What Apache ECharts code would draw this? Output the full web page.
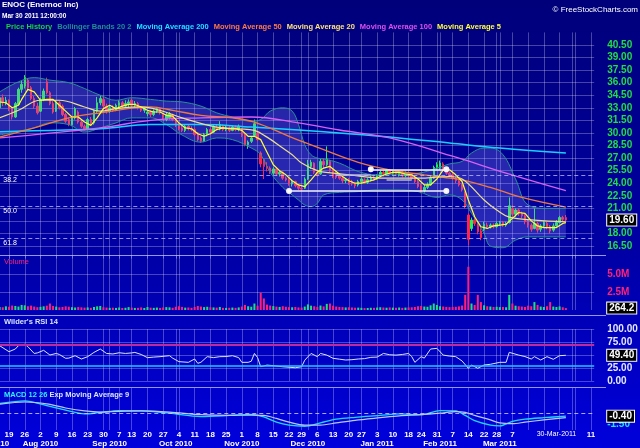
<!DOCTYPE html>
<html>
<head>
<meta charset="utf-8">
<script src="https://cdn.jsdelivr.net/npm/echarts@6.0.0/dist/echarts.min.js"></script>
<style>
html,body{margin:0;padding:0;background:#00007c;}
#chart{width:640px;height:448px;background:linear-gradient(to bottom,#00007a 0%,#0000a4 55%,#0000dc 100%);}
</style>
</head>
<body>
<div id="chart"></div>
<script>
// ---------- calendar ----------
const startDate = '2010-07-12';
const endDate = '2011-04-12';
const holidays = ['2010-09-06', '2010-11-25', '2010-12-24', '2011-01-17', '2011-02-21'];
const monthTickLabels = {
  '2010-07-12': 'Jul 2010', '2010-08-02': 'Aug 2010', '2010-09-01': 'Sep 2010',
  '2010-10-01': 'Oct 2010', '2010-11-01': 'Nov 2010', '2010-12-01': 'Dec 2010',
  '2011-01-03': 'Jan 2011', '2011-02-01': 'Feb 2011', '2011-03-01': 'Mar 2011'
};
const hiddenDayTicks = ['2011-03-14', '2011-03-21', '2011-03-28', '2011-04-04'];
const currentDateTick = { date: '2011-03-25', text: '30-Mar-2011' };

// ---------- price data (open, close, low, high), first row = 2010-07-14 ----------
const ohlcStart = 2;
const ohlc = [
[33.0,34.2,32.8,34.8],[34.2,33.6,33.2,34.6],[33.6,33.9,33.3,34.3],[33.9,32.9,32.6,34.0],[32.9,31.9,31.6,33.1],
[31.9,33.5,31.8,33.7],[33.4,35.2,33.3,35.4],[35.2,35.8,34.8,36.2],[35.6,36.6,35.3,36.9],[36.3,35.4,35.1,36.5],
[35.4,34.1,33.9,35.6],[34.1,33.2,32.9,34.4],[33.2,32.4,32.2,33.6],[32.6,34.0,32.5,34.2],[34.0,35.0,33.8,35.3],
[36.1,34.8,34.6,36.6],[34.8,33.5,33.3,35.0],[33.5,32.5,32.3,33.8],[32.6,33.6,32.5,33.9],[33.6,33.0,32.8,33.8],
[33.2,32.2,32.0,33.4],[32.2,31.4,31.2,32.4],[31.6,31.0,30.8,31.8],[31.0,31.8,30.8,32.0],[31.8,32.9,31.6,33.1],
[32.5,31.3,31.1,32.7],[31.3,30.8,30.6,31.6],[30.8,30.5,30.3,31.0],[30.5,31.6,30.4,31.8],[31.6,31.2,30.9,31.9],
[31.2,32.6,31.0,32.8],[32.6,33.6,32.4,34.3],[33.6,34.1,33.3,34.5],[34.0,33.2,33.0,34.3],[33.2,32.6,32.3,33.5],
[32.6,33.0,32.4,33.3],[33.0,32.7,32.5,33.3],[32.7,33.3,32.6,33.5],[33.3,33.6,33.0,33.9],[33.6,33.2,33.0,33.8],
[33.2,33.5,33.0,33.9],[33.5,33.7,33.1,34.0],[33.9,33.3,33.1,34.1],[33.3,33.5,33.0,33.8],[33.5,33.0,32.8,33.7],
[33.0,32.7,32.5,33.2],[32.7,32.9,32.4,33.1],[32.3,32.5,32.0,32.7],[32.5,32.2,31.9,32.7],[32.2,32.6,32.0,32.8],
[32.6,32.9,32.4,33.1],[32.9,32.4,32.2,33.0],[32.2,31.9,31.6,32.4],[31.6,32.2,31.4,32.5],[31.8,32.3,31.6,32.5],
[32.2,31.6,31.4,32.3],[31.6,30.9,30.7,31.8],[31.0,30.5,30.3,31.2],[30.6,30.3,30.1,30.9],[30.3,30.8,30.1,31.0],
[30.8,30.5,30.3,31.0],[30.5,30.4,30.2,30.8],[30.4,29.8,29.6,30.6],[30.0,29.2,29.0,30.1],[29.4,29.0,28.8,29.6],
[29.0,29.8,28.9,30.0],[29.8,30.4,29.6,30.6],[30.4,30.1,29.8,30.6],[30.1,30.7,30.0,30.9],[30.7,30.5,30.3,31.0],
[30.5,31.0,30.3,31.4],[30.8,30.4,30.2,31.0],[30.4,30.6,30.2,30.9],[30.6,30.3,30.1,30.8],[30.3,30.7,30.2,30.9],
[30.7,30.4,30.2,30.9],[30.4,30.8,30.2,31.0],[30.5,29.7,29.5,30.6],[29.7,28.6,28.4,29.9],[28.6,28.9,28.1,29.1],
[29.0,29.4,28.8,29.6],[29.7,31.1,29.6,31.6],[30.0,29.2,29.0,30.2],[27.6,26.3,25.9,27.8],[26.8,26.0,24.5,27.0],
[26.0,25.8,25.4,26.5],[25.8,25.4,25.1,26.0],[25.2,25.7,25.0,25.9],[25.7,25.1,24.9,25.9],[25.1,25.3,24.8,25.5],
[25.3,24.6,24.4,25.4],[24.6,24.4,24.2,24.8],[24.4,23.9,23.7,24.6],[23.9,24.2,23.6,24.4],[24.2,23.7,23.5,24.3],
[23.7,23.4,23.2,23.9],[23.4,23.3,23.1,23.6],[23.4,24.5,23.3,24.7],[24.5,26.3,24.4,26.8],[26.0,26.5,25.7,26.8],
[26.4,25.3,25.1,26.5],[25.3,25.0,24.8,25.6],[25.1,26.6,25.0,26.9],[26.6,26.2,25.8,27.0],[26.2,26.9,26.0,28.4],
[26.6,25.5,25.3,26.8],[25.5,24.8,24.6,25.8],[25.0,24.7,24.5,25.3],[24.9,24.6,24.4,25.2],[24.6,24.3,24.0,24.8],
[24.3,24.4,24.0,24.6],[24.4,24.0,23.8,24.6],[24.2,23.9,23.7,24.4],[23.9,23.7,23.4,24.1],[23.8,24.2,23.6,24.4],
[24.2,24.5,24.0,24.7],[24.4,24.1,23.9,24.6],[24.1,24.4,23.9,24.6],[24.4,24.7,24.2,24.9],[24.7,24.5,24.3,25.0],
[24.5,24.9,24.4,25.1],[24.9,25.3,24.7,25.5],[25.3,25.1,24.8,25.5],[25.1,25.5,25.0,25.7],[25.5,25.2,25.0,25.7],
[25.2,25.4,24.9,25.6],[25.4,25.1,24.9,25.6],[25.0,25.3,24.8,25.5],[25.3,24.9,24.7,25.5],[24.9,25.2,24.7,25.4],
[25.2,25.0,24.7,25.4],[25.0,24.6,24.4,25.2],[24.6,24.2,24.0,24.8],[24.2,23.6,23.4,24.4],[23.7,23.0,22.8,23.9],
[23.1,23.5,22.9,23.8],[23.5,23.8,23.3,24.1],[23.8,24.6,23.7,24.9],[24.6,25.9,24.5,26.1],[25.9,26.2,25.6,26.5],
[25.8,26.4,25.6,26.7],[26.3,25.6,25.4,26.5],[25.6,25.2,25.0,25.8],[25.2,25.0,24.7,25.4],[25.0,24.6,24.4,25.2],
[24.6,24.3,24.0,24.8],[24.3,23.8,23.6,24.5],[23.8,23.2,23.0,24.0],[22.8,21.2,21.0,23.0],[20.2,17.3,16.6,20.4],
[18.6,19.6,18.3,19.9],[19.6,19.2,18.9,19.9],[19.2,18.2,17.9,19.4],[18.3,17.5,17.2,18.6],[18.5,19.1,18.3,19.4],
[19.0,18.8,18.6,19.3],[18.8,19.0,18.6,19.2],[19.0,18.8,18.6,19.2],[18.8,19.2,18.7,19.4],[19.2,19.3,18.9,19.5],
[19.3,19.0,18.8,19.5],[19.0,19.2,18.8,19.4],[19.3,21.3,19.2,22.3],[21.0,20.3,20.0,21.4],[20.3,20.8,20.0,21.0],
[20.8,20.4,20.1,21.0],[20.4,20.1,19.8,20.6],[20.1,19.4,19.1,20.3],[19.4,19.0,18.7,19.6],[19.0,18.5,18.2,19.2],
[18.6,19.2,18.5,21.0],[19.2,18.4,18.1,19.4],[18.5,18.9,18.2,19.1],[18.9,19.3,18.7,19.5],[19.2,18.8,18.5,19.4],
[18.8,18.3,18.0,19.0],[18.4,18.9,18.2,19.2],[18.9,19.3,18.8,19.6],[19.3,19.9,19.2,20.1],[19.9,19.7,19.4,20.1],
[19.9,19.6,19.4,20.2]
];
// volume in thousands, same days as ohlc
const volume = [
420,380,510,450,620,560,480,700,650,
520,610,480,390,440,510,600,900,560,470,
380,420,510,460,390,350,410,370,330,360,
300,420,510,560,380,340,300,320,290,350,
280,310,400,330,290,300,360,280,410,320,
300,340,290,350,400,370,310,450,520,430,
330,350,300,420,560,480,400,450,380,360,
330,420,300,290,310,340,300,360,480,700,
520,460,900,600,2400,1600,750,620,540,470,
430,520,450,400,380,420,360,340,480,780,
600,520,430,620,500,850,900,600,480,420,
400,360,380,350,320,330,300,260,280,310,
300,340,380,350,320,360,330,310,350,300,
340,360,380,420,520,560,480,450,650,900,
700,520,480,430,400,420,450,500,620,2100,
6000,900,700,2100,1100,650,520,480,420,450,
400,420,380,2100,900,600,520,480,420,600,
520,1100,700,480,420,520,1100,480,420,500,380,264.2
];
// ---------- indicators: [trading-day index, value] ----------
const bbDays  = [2,8,13,18,24,29,34,39,44,50,55,60,66,71,76,82,85,88,92,95,97,99,101,103,105,110,116,122,128,135,141,145,149,152,156,158,162,166,170,176,182];
const bbUpper = [34.9,36.1,36.6,36.3,36.0,35.3,34.5,33.9,34.2,34.0,33.8,33.7,33.2,32.4,31.9,31.4,31.6,32.6,33.0,32.6,31.0,28.6,27.4,27.0,26.9,26.4,25.4,25.0,25.1,25.2,25.8,26.3,26.6,27.6,28.2,28.2,27.4,24.5,21.4,21.0,21.0];
const bbLower = [29.75,30.2,30.6,31.2,31.0,30.1,30.6,31.2,31.8,31.8,31.0,29.75,28.9,29.4,29.2,28.2,27.4,25.3,23.5,22.6,22.0,21.4,21.2,21.6,22.6,22.9,23.0,23.2,23.2,23.0,22.3,22.6,22.0,20.4,18.0,16.5,16.3,17.2,17.6,17.6,17.6];
const ma200 = [[2,30.15],[18,30.3],[34,30.5],[50,31.0],[66,31.0],[82,30.7],[97,30.35],[113,29.9],[129,29.4],[145,28.8],[161,28.2],[182,27.6]];
const ma100 = [[2,29.4],[34,30.6],[50,31.5],[66,31.8],[82,31.9],[97,31.2],[110,30.35],[126,29.4],[147,27.1],[163,25.2],[182,23.1]];
const ma50 = [[2,29.5],[13,30.6],[24,31.8],[34,32.4],[50,33.1],[57,32.7],[66,32.1],[76,31.8],[83,31.3],[94,29.6],[98,29.0],[105,28.0],[116,26.5],[126,25.6],[137,25.0],[143,24.7],[149,24.4],[158,23.5],[168,22.3],[182,21.15]];
const ma20 = [[2,31.8],[8,32.7],[15,33.9],[21,33.9],[29,33.1],[34,32.6],[39,32.9],[47,33.1],[53,32.7],[60,31.8],[71,30.7],[78,30.5],[83,30.3],[87,29.5],[92,28.2],[95,27.4],[98,26.4],[103,25.5],[108,25.2],[113,25.0],[124,24.6],[135,24.6],[145,24.8],[149,24.5],[156,22.0],[160,20.8],[164,19.95],[172,19.6],[182,19.4]];
const ma5 = [[2,33.7],[4,33.6],[6,33.0],[8,33.3],[9,34.0],[11,35.2],[13,34.9],[15,33.9],[17,34.0],[19,34.0],[21,33.3],[23,32.6],[25,31.9],[27,31.9],[29,31.3],[31,30.9],[33,31.8],[35,32.9],[37,33.3],[39,32.9],[41,33.2],[43,33.4],[45,33.4],[47,33.1],[49,32.7],[51,32.5],[53,32.5],[55,32.1],[57,32.0],[59,31.2],[61,30.6],[63,30.5],[65,29.9],[67,29.6],[69,29.9],[71,30.4],[73,30.6],[75,30.5],[77,30.5],[79,30.3],[81,29.6],[83,29.6],[85,29.2],[87,27.7],[89,26.2],[91,25.5],[93,25.0],[95,24.3],[97,23.8],[99,23.6],[101,24.4],[103,25.3],[105,25.8],[107,26.0],[109,25.4],[111,24.8],[113,24.3],[115,24.0],[117,24.0],[119,24.2],[121,24.4],[123,24.8],[125,25.1],[127,25.3],[129,25.3],[131,25.1],[133,25.0],[135,24.5],[137,23.8],[139,23.8],[141,24.5],[143,25.6],[145,25.6],[147,25.0],[149,24.2],[151,22.0],[153,20.0],[155,18.8],[157,18.6],[159,18.9],[161,19.0],[163,19.1],[165,19.8],[167,20.5],[169,20.4],[171,19.5],[173,18.9],[175,18.7],[177,18.7],[179,18.7],[181,19.2],[182,19.3]];
const rsi = [[2,67.9],[5,56.4],[7,61.5],[8,68],[10,70.5],[11,66],[13,53],[14,54],[16,59],[18,50],[20,53],[21,51],[23,43.6],[24,44],[26,48.7],[28,42.3],[30,46.8],[32,55],[34,61.5],[36,53],[38,52],[40,54.3],[42,53],[44,54],[45,55],[47,51],[49,44.9],[51,46],[53,46.8],[56,48.7],[57,44],[59,37.2],[62,35.9],[64,42.3],[65,34],[66,36],[68,46.8],[70,45],[72,46.8],[74,47],[76,48.7],[78,45],[79,35.9],[81,35.9],[82,38],[83,53],[84,45],[85,27.4],[87,30.6],[89,29.5],[92,27.4],[94,26.5],[96,25.5],[98,27.4],[99,40],[101,53],[103,46.8],[104,53],[106,49.8],[108,43.6],[110,42],[112,40.4],[114,41],[116,42.3],[118,43],[120,45.5],[122,46],[124,53],[126,50.5],[128,49.8],[130,51],[132,53],[133,47],[134,35.9],[136,46.8],[137,44],[139,61.5],[141,62.8],[143,49.8],[145,48],[147,46.8],[149,38.5],[151,24.4],[152,30.8],[154,24.4],[156,30.8],[158,32.1],[161,35.9],[163,35.9],[164,55.1],[167,49.8],[169,47],[171,42.3],[172,46.8],[174,40.4],[176,46.8],[178,41.7],[180,48.7],[182,49.4]];
const macd = [[2,1.3],[10,1.65],[17,1.0],[23,0.4],[29,-0.1],[34,0.1],[40,0.35],[47,0.3],[56,0.0],[66,-0.45],[75,-0.3],[82,-0.15],[86,-0.5],[90,-1.2],[94,-1.6],[99,-1.75],[104,-1.3],[109,-0.8],[115,-0.55],[123,-0.3],[129,-0.1],[136,-0.2],[142,0.35],[147,0.3],[150,-0.3],[153,-1.0],[158,-1.6],[161,-1.7],[165,-1.1],[169,-0.8],[175,-0.6],[182,-0.4]];
const macdSignal = [[2,1.2],[10,1.5],[17,1.25],[23,0.7],[29,0.3],[34,0.15],[40,0.25],[47,0.3],[56,0.15],[66,-0.2],[75,-0.3],[82,-0.25],[86,-0.3],[90,-0.7],[94,-1.2],[99,-1.6],[104,-1.6],[109,-1.3],[115,-0.95],[123,-0.6],[129,-0.35],[136,-0.2],[142,0.0],[147,0.2],[150,0.1],[153,-0.3],[158,-0.9],[161,-1.3],[165,-1.4],[169,-1.2],[175,-0.9],[182,-0.6]];
// drawn trend lines: [from day index, to day index, price]
const drawnLines = [[94,144,23.06],[120,144,25.66]];
const fadedLines = [[109,120,24.97],[125,133,24.38]];
const fibLevels = [[24.89,'38.2'],[21.19,'50.0'],[17.41,'61.8']];
const lastPrice = 19.60, lastVolume = 264.2, lastRsi = 49.40, lastMacd = -0.40;

// ---------- build ----------
function buildDays() {
  const out = [];
  let d = new Date(startDate + 'T00:00:00Z');
  const e = new Date(endDate + 'T00:00:00Z');
  while (d <= e) {
    const s = d.toISOString().slice(0, 10);
    const dow = d.getUTCDay();
    if (dow !== 0 && dow !== 6 && holidays.indexOf(s) < 0) out.push(s);
    d = new Date(d.getTime() + 86400000);
  }
  return out;
}
const days = buildDays();
const dowOf = s => new Date(s + 'T00:00:00Z').getUTCDay();
const weekStart = days.map((s, i) => i === 0 || dowOf(s) <= dowOf(days[i - 1]));
const monthStart = days.map((s, i) => i === 0 || s.slice(5, 7) !== days[i - 1].slice(5, 7));
const toPairs = arr => arr.map(([i, v]) => [days[i], v]);

const F = "'Liberation Sans', Arial, sans-serif";
const GL = 'rgba(255,255,255,0.27)';
const UP = '#22ee55', DOWN = '#ff2448';

const candleData = ohlc.map((r, k) => [days[ohlcStart + k], r[0], r[1], r[2], r[3]]);
const volData = volume.map((v, k) => ({
  value: [days[ohlcStart + k], v],
  itemStyle: { color: ohlc[k][1] >= ohlc[k][0] ? '#1ee07a' : '#ff1f78' }
}));
const bbLowerData = bbDays.map((d, k) => [days[d], bbLower[k]]);
const bbBandData = bbDays.map((d, k) => [days[d], +(bbUpper[k] - bbLower[k]).toFixed(3)]);

const gridBase = { left: -6.7, right: 45.8, outerBoundsMode: 'none', containLabel: false };
const grids = [
  Object.assign({ top: 32.4, height: 226.2 }, gridBase),
  Object.assign({ top: 256, height: 54 }, gridBase),
  Object.assign({ top: 329, height: 52 }, gridBase),
  Object.assign({ top: 388, height: 42 }, gridBase)
];
function xAx(g, extra) {
  return Object.assign({
    type: 'category', gridIndex: g, data: days, boundaryGap: false,
    axisLine: { show: false }, axisTick: { show: false }, axisLabel: { show: false },
    splitLine: { show: true, interval: i => weekStart[i] || monthStart[i], lineStyle: { color: GL, width: 1 } }
  }, extra || {});
}
const HIDE = { color: 'rgba(0,0,0,0)', width: 0, type: 'solid' };
const boxLabel = txt => ({
  show: true, position: 'end', formatter: txt, distance: 13,
  backgroundColor: '#000', borderColor: '#fff', borderWidth: 1, padding: [1, 2, 0, 2],
  color: '#fff', fontWeight: 'bold', fontSize: 10, fontFamily: F
});
const valueBox = (v, txt) => ({ yAxis: v, lineStyle: HIDE, label: boxLabel(txt) });

const option = {
  animation: false,
  backgroundColor: 'transparent',
  title: [
    { left: 2, top: 1, padding: 0, itemGap: 4, text: 'ENOC (Enernoc Inc)', subtext: 'Mar 30 2011 12:00:00',
      textStyle: { color: '#fff', fontSize: 8, fontWeight: 'bold', fontFamily: F },
      subtextStyle: { color: '#fff', fontSize: 6.5, fontWeight: 'bold', fontFamily: F } },
    { right: 2, top: 6, padding: 0, text: '© FreeStockCharts.com',
      textStyle: { color: '#fff', fontSize: 8, fontWeight: 'normal', fontFamily: F } },
    { left: 4, top: 258, padding: 0, text: 'Volume', textStyle: { color: '#ff2277', fontSize: 7.5, fontWeight: 'normal', fontFamily: F } },
    { left: 4, top: 318, padding: 0, text: "Wilder's RSI 14", textStyle: { color: '#d8e4ff', fontSize: 7.5, fontWeight: 'bold', fontFamily: F } },
    { left: 4, top: 391, padding: 0, text: '{a|MACD 12 26} {b|Exp Moving Average 9}',
      textStyle: { fontSize: 7.5, fontFamily: F, rich: { a: { color: '#33f0ff', fontSize: 7.5, fontWeight: 'bold' }, b: { color: '#d8e4ff', fontSize: 7.5, fontWeight: 'bold' } } } }
  ],
  legend: {
    left: 0, top: 23, padding: 0, itemGap: 0, itemWidth: 0, itemHeight: 0, icon: 'rect',
    selectedMode: false,
    textStyle: { fontSize: 7.5, fontWeight: 'bold', fontFamily: F },
    data: [
      { name: 'Price History', textStyle: { color: '#19d43a' } },
      { name: 'Bollinger Bands 20 2', textStyle: { color: '#1f8f8f' } },
      { name: 'Moving Average 200', textStyle: { color: '#20e0ff' } },
      { name: 'Moving Average 50', textStyle: { color: '#ff7a40' } },
      { name: 'Moving Average 20', textStyle: { color: '#ffe27a' } },
      { name: 'Moving Average 100', textStyle: { color: '#e050f0' } },
      { name: 'Moving Average 5', textStyle: { color: '#ffff40' } }
    ]
  },
  graphic: [0, 1, 2].map(k => ({
    type: 'line', silent: true,
    shape: { x1: 0, x2: 606, y1: [255.5, 315.5, 387.5][k], y2: [255.5, 315.5, 387.5][k] },
    style: { stroke: 'rgba(175,175,255,0.85)', lineWidth: 1 }
  })),
  grid: grids,
  xAxis: [
    xAx(0), xAx(1), xAx(2),
    xAx(3, {
      axisLabel: {
        show: true, margin: 1, color: '#fff', fontSize: 8, fontWeight: 'bold', fontFamily: F,
        alignMinLabel: 'center', alignMaxLabel: 'center',
        interval: i => (weekStart[i] && hiddenDayTicks.indexOf(days[i]) < 0) || days[i] === currentDateTick.date,
        formatter: v => v === currentDateTick.date ? '{s|' + currentDateTick.text + '}' : String(+v.slice(8, 10)),
        rich: { s: { fontSize: 7, fontWeight: 'normal', color: '#fff', fontFamily: F } }
      }
    }),
    { type: 'category', gridIndex: 3, data: days, boundaryGap: false, position: 'bottom', offset: 9,
      axisLine: { show: false }, axisTick: { show: false }, splitLine: { show: false },
      axisLabel: { show: true, margin: 1, color: '#fff', fontSize: 8, fontWeight: 'bold', fontFamily: F,
        alignMinLabel: 'center', alignMaxLabel: 'center',
        interval: i => monthTickLabels[days[i]] !== undefined,
        formatter: v => monthTickLabels[v] || '' } }
  ],
  yAxis: [
    { type: 'value', gridIndex: 0, position: 'right', min: 15, max: 42, interval: 1.5,
      axisLine: { show: false }, axisTick: { show: false },
      axisLabel: { margin: 13, color: '#22dd44', fontSize: 10, fontWeight: 'bold', fontFamily: F,
        formatter: v => (v <= 15 || v >= 42) ? '' : v.toFixed(2) },
      splitLine: { lineStyle: { color: GL }, showMinLine: false, showMaxLine: false } },
    { type: 'value', gridIndex: 1, position: 'right', min: 0, max: 7500, interval: 2500,
      axisLine: { show: false }, axisTick: { show: false },
      axisLabel: { margin: 13, color: '#ff2277', fontSize: 10, fontWeight: 'bold', fontFamily: F,
        formatter: v => (v === 2500 || v === 5000) ? (v / 1000).toFixed(1) + 'M' : '' },
      splitLine: { lineStyle: { color: GL }, showMinLine: false, showMaxLine: false } },
    { type: 'value', gridIndex: 2, position: 'right', min: 0, max: 100, interval: 25,
      axisLine: { show: false }, axisTick: { show: false },
      axisLabel: { margin: 13, color: '#e4e8ff', fontSize: 10, fontWeight: 'bold', fontFamily: F,
        formatter: v => v === 50 ? '' : v.toFixed(2) },
      splitLine: { lineStyle: { color: GL } } },
    { type: 'value', gridIndex: 3, position: 'right', min: -2.25, max: 3.375, interval: 0.75,
      axisLine: { show: false }, axisTick: { show: false },
      axisLabel: { margin: 13, color: '#22e0ff', fontSize: 10, fontWeight: 'bold', fontFamily: F,
        formatter: v => Math.abs(v + 1.5) < 1e-9 ? '-1.50' : '' },
      splitLine: { show: false } }
  ],
  series: [
    { name: 'Bollinger Bands 20 2', type: 'line', xAxisIndex: 0, yAxisIndex: 0, stack: 'bb', smooth: 0.4,
      symbol: 'none', data: bbLowerData, lineStyle: { color: '#2a9090', width: 1 }, silent: true },
    { name: 'Bollinger Bands 20 2', type: 'line', xAxisIndex: 0, yAxisIndex: 0, stack: 'bb', smooth: 0.4,
      symbol: 'none', data: bbBandData, lineStyle: { color: '#2a9090', width: 1 },
      areaStyle: { color: 'rgba(150,150,255,0.36)' }, silent: true },
    { name: 'Moving Average 200', type: 'line', xAxisIndex: 0, yAxisIndex: 0, smooth: 0.4, symbol: 'none',
      data: toPairs(ma200), lineStyle: { color: '#1ad0ff', width: 1.5 },
      markLine: { silent: true, symbol: ['emptyCircle', 'emptyCircle'], symbolSize: 4,
        label: { show: false },
        data: drawnLines.map(([a, b, p]) => [{ coord: [days[a], p], lineStyle: { color: '#f4f4f4', width: 1.5, type: 'solid' }, itemStyle: { color: '#f4f4f4' } }, { coord: [days[b], p] }])
          .concat(fadedLines.map(([a, b, p]) => [{ coord: [days[a], p], symbol: 'none', lineStyle: { color: '#b8b8d8', width: 1.5, type: 'solid' } }, { coord: [days[b], p], symbol: 'none' }])) } },
    { name: 'Moving Average 100', type: 'line', xAxisIndex: 0, yAxisIndex: 0, smooth: 0.4, symbol: 'none',
      data: toPairs(ma100), lineStyle: { color: '#d860f0', width: 1.3 } },
    { name: 'Moving Average 50', type: 'line', xAxisIndex: 0, yAxisIndex: 0, smooth: 0.4, symbol: 'none',
      data: toPairs(ma50), lineStyle: { color: '#f07840', width: 1.3 } },
    { name: 'Price History', type: 'candlestick', xAxisIndex: 0, yAxisIndex: 0, barWidth: 2,
      encode: { x: 0, y: [1, 2, 3, 4] }, data: candleData,
      itemStyle: { color: UP, color0: DOWN, borderColor: UP, borderColor0: DOWN, borderWidth: 1 },
      markLine: { silent: true, symbol: ['none', 'none'],
        data: fibLevels.map(([p, t]) => ({ yAxis: p,
          lineStyle: { color: 'rgba(195,195,255,0.75)', type: [4, 3], width: 1 },
          label: { show: true, position: 'insideStartBottom', formatter: t, color: '#fff', fontSize: 7, fontFamily: F, padding: [0, 0, 0, 9], distance: 1 } }))
          .concat([valueBox(lastPrice, lastPrice.toFixed(2))]) } },
    { name: 'Moving Average 20', type: 'line', xAxisIndex: 0, yAxisIndex: 0, smooth: 0.4, symbol: 'none',
      data: toPairs(ma20), lineStyle: { color: '#eadf8c', width: 1.2 } },
    { name: 'Moving Average 5', type: 'line', xAxisIndex: 0, yAxisIndex: 0, symbol: 'none',
      data: toPairs(ma5), lineStyle: { color: '#ffff30', width: 1.2 } },
    { name: 'Volume', type: 'bar', xAxisIndex: 1, yAxisIndex: 1, barWidth: 2, data: volData,
      markLine: { silent: true, symbol: ['none', 'none'], data: [valueBox(lastVolume, lastVolume.toFixed(1))] } },
    { name: "Wilder's RSI 14", type: 'line', xAxisIndex: 2, yAxisIndex: 2, symbol: 'none',
      data: toPairs(rsi), lineStyle: { color: '#d8e4ff', width: 1 },
      markLine: { silent: true, symbol: ['none', 'none'],
        data: [
          { yAxis: 70, lineStyle: { color: '#c02aa0', width: 2, type: 'solid' }, label: { show: false } },
          { yAxis: 30, lineStyle: { color: '#22c8ff', width: 1.5, type: 'solid' }, label: { show: false } },
          valueBox(lastRsi, lastRsi.toFixed(2))
        ] } },
    { name: 'MACD 12 26', type: 'line', xAxisIndex: 3, yAxisIndex: 3, symbol: 'none', smooth: 0.3,
      data: toPairs(macd), lineStyle: { color: '#20d8ff', width: 1.3 },
      markLine: { silent: true, symbol: ['none', 'none'],
        data: [
          { yAxis: 0, lineStyle: { color: 'rgba(210,210,255,0.8)', width: 1, type: [4, 3] }, label: { show: false } },
          valueBox(lastMacd, lastMacd.toFixed(2))
        ] } },
    { name: 'Exp Moving Average 9', type: 'line', xAxisIndex: 3, yAxisIndex: 3, symbol: 'none', smooth: 0.3,
      data: toPairs(macdSignal), lineStyle: { color: '#b8c8ff', width: 1.2 } }
  ]
};
const chart = echarts.init(document.getElementById('chart'), null, { renderer: 'canvas' });
chart.setOption(option);
</script>
</body>
</html>
